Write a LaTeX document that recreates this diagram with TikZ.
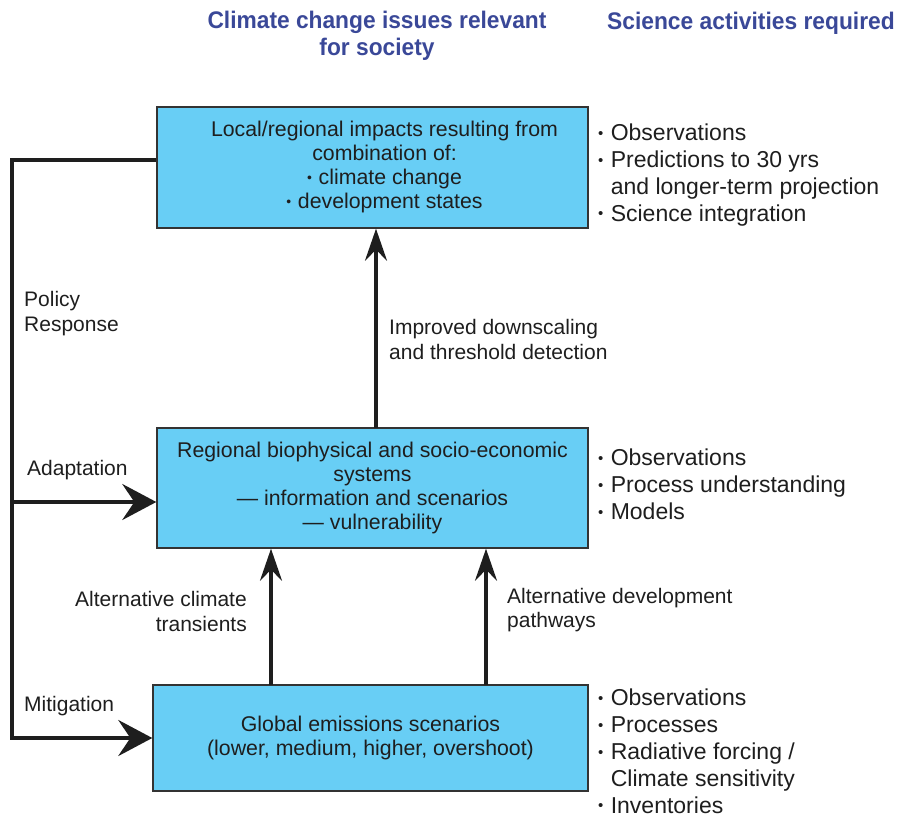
\documentclass[tikz,border=0pt]{standalone}
\usepackage{fontspec}
\setmainfont{Liberation Sans}
\usetikzlibrary{arrows.meta}
\definecolor{boxbluecolor}{RGB}{104,206,245}
\definecolor{headbluecolor}{RGB}{58,72,152}
\definecolor{inkcolor}{RGB}{30,30,30}
\newcommand{\bul}{\raisebox{0.2ex}{\scalebox{0.65}{•}}\hspace{0.32em}}
\newcommand{\boxfont}{\fontsize{21.3}{24}\selectfont}
\newcommand{\listfont}{\fontsize{23}{26.8}\selectfont}
\newcommand{\labfont}{\fontsize{21}{24.5}\selectfont}
\newcommand{\headfont}{\fontsize{24}{27}\selectfont\bfseries}
\begin{document}
\begin{tikzpicture}[x=1pt,y=-1pt,inkcolor,
  issue/.style={draw=black!80,line width=1.4pt,fill=boxbluecolor,inner sep=0pt,
    align=center,font=\boxfont},
  flow/.style={line width=3.2pt,-{Stealth[length=32pt,width=22pt,inset=11pt]}},
  policy/.style={line width=3.4pt,-{Stealth[length=34pt,width=36pt,inset=12pt]}},
  activity/.style={anchor=north west,inner sep=0pt,align=left,font=\listfont},
  lab/.style={inner sep=0pt,font=\labfont}]
\useasboundingbox (0,0) rectangle (898,814);
% headings
\node[headbluecolor,align=center,font=\headfont] (head1) at (377,36)
  {\scalebox{0.948}[1]{Climate change issues relevant}\\\scalebox{0.948}[1]{for society}};
\node[headbluecolor,font=\headfont] (head2) at (751,23) {\scalebox{0.95}[1]{Science activities required}};
% boxes
\node[issue,minimum width=431pt,minimum height=121pt] (impacts) at (372.5,167.5)
  {\begin{tabular}{@{\hspace{24pt}}c@{}}Local/regional impacts resulting from\\combination of:\\
   \bul climate change\\\bul development states\end{tabular}};
\node[issue,minimum width=431pt,minimum height=120pt] (systems) at (372.5,488)
  {Regional biophysical and socio-economic\\systems\\--- information and scenarios\\--- vulnerability};
\node[issue,minimum width=435pt,minimum height=106pt] (emissions) at (370.5,738)
  {Global emissions scenarios\\(lower, medium, higher, overshoot)};
% science activities
\node[activity] (act1) at (598,124) {\bul Observations\\\bul Predictions to 30 yrs\\
  \hphantom{\bul}and longer-term projection\\\bul Science integration};
\node[activity] (act2) at (598,449) {\bul Observations\\\bul Process understanding\\\bul Models};
\node[activity] (act3) at (598,689) {\bul Observations\\\bul Processes\\\bul Radiative forcing /\\
  \hphantom{\bul}Climate sensitivity\\\bul Inventories};
% vertical links
\coordinate (up1) at (376,428);
\coordinate (up2) at (271,685);
\coordinate (up3) at (486,685);
\draw[flow] (up1) -- (up1 |- impacts.south);
\draw[flow] (up2) -- (up2 |- systems.south);
\draw[flow] (up3) -- (up3 |- systems.south);
\node[lab,anchor=west,align=left] (down) at (389,339.5) {Improved downscaling\\and threshold detection};
\node[lab,anchor=east,align=right] (trans) at (247,611.5) {Alternative climate\\transients};
\node[lab,anchor=west,align=left] (path) at (507,610) {Alternative development\\pathways};
% policy response loop
\coordinate (ctop) at (12,160);
\coordinate (cmid) at (12,502);
\coordinate (cbot) at (12,738);
\draw[line width=3.4pt,line join=miter] (ctop -| impacts.west) -- (ctop) -- (cbot) -- (cbot -| 100,0);
\draw[policy] (cbot) -- (emissions.west);
\draw[policy] (cmid) -- (cmid -| systems.west);
\node[lab,anchor=west,align=left] (resp) at (24,313.5) {Policy\\Response};
\node[lab,anchor=west] (adapt) at (27,470) {Adaptation};
\node[lab,anchor=west] (mitig) at (24,706) {Mitigation};
\end{tikzpicture}
\end{document}
